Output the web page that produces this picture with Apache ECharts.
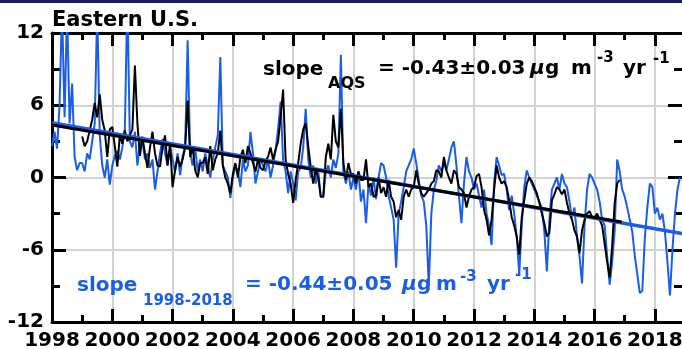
<!DOCTYPE html>
<html>
<head>
<meta charset="utf-8">
<script src="https://cdn.jsdelivr.net/npm/echarts@6/dist/echarts.min.js"></script>
<style>
html,body{margin:0;padding:0;background:#fff;}
#wrap{position:relative;width:682px;height:349px;}
#frame,#plot{position:absolute;left:0;top:0;width:682px;height:349px;}
</style>
</head>
<body>
<div id="wrap"><div id="frame"></div><div id="plot"></div></div>
<script>
// ---- data (monthly anomalies, µg m-3) ----
const blueStartYear = 1998;
const blue1998 = [2.6, 3.8, 2.4, 6.0, 14.0, 5.0, 14.0, 4.5, 7.8, 1.7, 0.6, 1.2];
const blue1999 = [1.2, 0.5, 2.0, 1.5, 3.0, 4.5, 14.0, 3.5, 1.0, 0.0, 1.5, -0.6];
const blue2000 = [1.0, 1.8, 2.2, 1.5, 2.5, 4.0, 15.0, 3.0, 2.5, 3.8, 1.0, 2.8];
const blue2001 = [3.0, 1.5, 2.0, 0.8, 1.5, -1.0, 0.5, 2.0, 3.2, 2.0, 1.0, 2.5];
const blue2002 = [1.5, 0.5, 2.0, 0.2, 1.8, 2.5, 11.4, 2.0, 1.0, 2.5, 0.5, 1.5];
const blue2003 = [0.5, 2.0, 1.0, 0.0, 1.5, 2.5, 3.5, 10.0, 1.0, 0.5, 0.0, -1.7];
const blue2004 = [0.0, 1.0, 0.5, -0.8, 1.5, 0.5, 1.0, 3.8, 2.0, -0.5, 0.5, 1.5];
const blue2005 = [1.0, 0.5, 1.5, 0.0, 1.0, 2.3, 4.0, 6.3, 1.5, 0.5, -1.3, 0.5];
const blue2006 = [-0.5, -1.9, 0.5, 0.8, 2.5, 5.7, 1.5, 0.0, 1.0, -0.5, 0.5, -1.6];
const blue2007 = [-1.6, 0.5, 1.0, 0.0, 1.5, 0.8, 2.0, 10.2, 0.5, -0.5, 0.5, -1.0];
const blue2008 = [0.0, -1.0, 0.5, -2.0, -1.0, -3.8, -0.5, -1.5, 0.0, -1.8, 0.0, 1.2];
const blue2009 = [1.0, 0.0, -1.5, -2.5, -3.5, -7.5, -3.0, -2.0, -0.8, 0.5, 1.0, 1.5];
const blue2010 = [2.4, 1.2, -0.2, -1.5, -2.0, -4.0, -9.0, -3.0, -1.0, -0.3, 1.0, 0.5];
const blue2011 = [1.2, 0.6, 1.5, 2.5, 3.0, 1.0, -1.5, -3.8, -0.5, 1.7, 0.5, 0.0];
const blue2012 = [-1.0, -0.5, -1.5, -2.5, -1.0, -3.0, -4.0, -5.6, -0.5, 1.7, 1.0, 0.2];
const blue2013 = [0.3, -1.0, -2.7, -1.5, -3.0, -4.9, -8.0, -4.0, -0.8, 0.6, 0.0, -0.5];
const blue2014 = [-1.0, -1.5, -2.0, -2.5, -4.5, -7.8, -3.5, -1.0, -0.5, 0.0, -1.0, 0.3];
const blue2015 = [-0.5, -0.8, -2.0, -3.3, -2.5, -4.9, -6.5, -8.8, -4.0, -1.0, 0.3, 0.0];
const blue2016 = [-0.5, -1.0, -2.0, -3.5, -4.0, -6.5, -8.9, -7.0, -4.4, 1.5, 0.5, -1.0];
const blue2017 = [-1.6, -2.5, -3.5, -4.5, -6.5, -8.0, -9.6, -9.4, -5.0, -2.5, -0.5, -0.8];
const blue2018 = [-3.0, -2.5, -3.5, -3.0, -4.5, -7.0, -9.8, -6.0, -3.0, -1.0, 0.0];

const blackStartYear = 1999;
const black1999 = [3.4, 2.6, 3.0, 3.9, 4.8, 6.2, 5.0, 6.9, 4.8, 3.9, 1.7, 4.0];
const black2000 = [4.2, 2.6, 0.9, 3.5, 2.8, 3.9, 3.0, 3.5, 4.0, 9.3, 4.5, 1.8];
const black2001 = [3.4, 2.0, 0.8, 2.5, 3.8, 2.0, 1.0, 0.9, 2.5, 3.5, 1.0, 2.8];
const black2002 = [-0.8, 0.6, 1.7, 0.9, 1.5, 2.5, 6.4, 1.7, 2.5, 0.6, 0.0, 1.2];
const black2003 = [1.2, 1.7, 0.3, 2.6, 0.6, 1.5, 2.0, 3.9, 1.0, 0.0, -0.5, -1.3];
const black2004 = [0.3, 1.2, 0.0, 1.7, 2.3, 1.2, 2.6, 2.0, 1.2, 0.5, 1.5, 0.8];
const black2005 = [0.6, 1.4, 1.7, 2.5, 1.5, 2.3, 3.0, 5.0, 7.3, 1.5, 0.3, -0.5];
const black2006 = [-2.1, -0.2, 1.2, 2.8, 4.0, 4.5, 2.6, 0.9, -0.5, 0.6, 0.0, -1.6];
const black2007 = [-1.6, 1.7, 2.8, 1.5, 5.2, 3.0, 2.5, 5.7, 1.2, -0.2, 1.2, 0.3];
const black2008 = [0.3, -0.5, 0.5, -0.2, -0.2, 1.5, -0.8, -0.5, -1.6, -1.5, 0.0, -1.3];
const black2009 = [-0.8, -1.6, -0.2, -1.6, -2.0, -3.3, -2.7, -3.5, -1.6, -1.0, -1.6, -1.0];
const black2010 = [-0.8, 0.6, -0.5, -1.3, -1.6, -1.3, -1.0, -0.5, -0.3, 0.6, 0.5, 0.0];
const black2011 = [1.7, 0.6, 0.0, -0.5, 0.6, 0.3, -0.8, -1.0, -1.3, -2.5, -1.6, -1.0];
const black2012 = [-0.8, 0.1, 0.3, -0.8, -2.7, -3.5, -4.8, -3.5, -1.0, 1.0, 0.0, -0.5];
const black2013 = [-0.3, -0.8, -1.9, -3.3, -4.0, -4.9, -6.4, -3.3, -1.9, -0.5, 0.0, -0.3];
const black2014 = [-0.8, -1.3, -2.1, -3.0, -3.8, -4.9, -4.6, -1.9, -1.4, -0.8, -1.0, -1.4];
const black2015 = [-1.0, -2.1, -3.0, -3.5, -4.4, -4.9, -6.3, -4.4, -3.5, -3.0, -2.8, -3.3];
const black2016 = [-3.3, -3.0, -3.5, -4.0, -5.5, -7.0, -8.3, -5.7, -2.1, -0.5, -0.2];

// trend lines (end points)
const trendBlueT = [1998, 2018.9];
const trendBlueV = [4.55, -4.65];
const trendBlackT = [1998, 2016.9];
const trendBlackV = [4.36, -3.7];

// axis ticks / labels
const xMin = 1998, xMax = 2018.9;
const xTicks = [1998, 2000, 2002, 2004, 2006, 2008, 2010, 2012, 2014, 2016, 2018];
const xMinorTicks = [1999, 2001, 2003, 2005, 2007, 2009, 2011, 2013, 2015, 2017];
const yTicks = [-12, -6, 0, 6, 12];

const blueYears = [blue1998, blue1999, blue2000, blue2001, blue2002, blue2003, blue2004, blue2005, blue2006, blue2007, blue2008, blue2009, blue2010, blue2011, blue2012, blue2013, blue2014, blue2015, blue2016, blue2017, blue2018];
const blackYears = [black1999, black2000, black2001, black2002, black2003, black2004, black2005, black2006, black2007, black2008, black2009, black2010, black2011, black2012, black2013, black2014, black2015, black2016];

function monthly(startYear, years) {
  const out = [];
  years.forEach((arr, yi) => arr.forEach((v, m) => out.push([startYear + yi + m / 12, v])));
  return out;
}
const blueData = monthly(blueStartYear, blueYears);
const blackData = monthly(blackStartYear, blackYears);
const trendBlue = trendBlueT.map((t, i) => [t, trendBlueV[i]]);
const trendBlack = trendBlackT.map((t, i) => [t, trendBlackV[i]]);

// ---- styling ----
const BLUE = '#1a5ee8';
const FONT = '"DejaVu Sans", "Liberation Sans", sans-serif';
const GRIDC = '#d2d2d2';
const GRID = { left: 52, top: 33, right: 0, bottom: 27, outerBoundsMode: 'none', containLabel: false };

function txt(s, x, base, size, color, italic) {
  return {
    type: 'text', x: x, y: base - 0.346 * size, z: 100,
    style: {
      text: s, fill: color,
      font: (italic ? 'italic ' : '') + 'bold ' + size + 'px ' + FONT,
      textAlign: 'left', verticalAlign: 'middle'
    }
  };
}

function xAx(position, ticks, len, opts) {
  return Object.assign({
    type: 'value', position: position, min: xMin, max: xMax,
    axisLine: { show: true, onZero: false, lineStyle: { color: '#000', width: 3 } },
    axisTick: { show: true, inside: true, length: len, customValues: ticks, lineStyle: { color: '#000', width: 3 } },
    minorTick: { show: false },
    splitLine: { show: false },
    axisLabel: { show: false }
  }, opts || {});
}
function yAx(position, opts) {
  return Object.assign({
    type: 'value', position: position, min: -12, max: 12, interval: 6,
    axisLine: { show: true, onZero: false, lineStyle: { color: '#000', width: 3 } },
    axisTick: { show: true, inside: true, length: 14, lineStyle: { color: '#000', width: 3 } },
    minorTick: { show: true, splitNumber: 2, length: 8, lineStyle: { color: '#000', width: 3 } },
    splitLine: { show: false },
    axisLabel: { show: false }
  }, opts || {});
}

// ---- layer 1: frame (axes, grid lines, tick labels) ----
const frame = echarts.init(document.getElementById('frame'), null, { renderer: 'canvas' });
frame.setOption({
  animation: false,
  backgroundColor: '#fff',
  grid: GRID,
  xAxis: [
    xAx('bottom', xTicks, 13, {
      splitLine: { show: true, lineStyle: { color: GRIDC, width: 2 } },
      axisLabel: {
        show: true, margin: 9, color: '#000', fontSize: 20, fontWeight: 'bold', fontFamily: FONT,
        customValues: xTicks, showMinLabel: true, showMaxLabel: true, formatter: v => String(v)
      }
    }),
    xAx('top', xTicks, 13),
    xAx('bottom', xMinorTicks, 7, { axisLine: { show: false, onZero: false } }),
    xAx('top', xMinorTicks, 7, { axisLine: { show: false, onZero: false } })
  ],
  yAxis: [
    yAx('left', {
      splitLine: { show: true, lineStyle: { color: GRIDC, width: 2 } },
      axisLabel: {
        show: true, margin: 8, color: '#000', fontSize: 20, fontWeight: 'bold', fontFamily: FONT,
        showMinLabel: true, showMaxLabel: true,
        formatter: v => (yTicks.indexOf(v) >= 0 ? String(v) : '')
      }
    }),
    yAx('right', { axisLine: { show: false, onZero: false } })
  ],
  series: []
});

// ---- layer 2: data series and annotations ----
const hidden = { axisLine: { show: false, onZero: false }, axisTick: { show: false }, minorTick: { show: false }, splitLine: { show: false }, axisLabel: { show: false } };
const plot = echarts.init(document.getElementById('plot'), null, { renderer: 'canvas' });
plot.setOption({
  animation: false,
  backgroundColor: 'transparent',
  grid: GRID,
  xAxis: Object.assign({ type: 'value', min: xMin, max: xMax }, hidden),
  yAxis: Object.assign({ type: 'value', min: -12, max: 12, interval: 6 }, hidden),
  series: [
    { type: 'line', data: blueData, showSymbol: false, symbol: 'none', lineStyle: { color: BLUE, width: 2 }, z: 2, clip: true },
    { type: 'line', data: blackData, showSymbol: false, symbol: 'none', lineStyle: { color: '#000', width: 2 }, z: 3, clip: true },
    { type: 'line', data: trendBlue, showSymbol: false, symbol: 'none', lineStyle: { color: BLUE, width: 3.5 }, z: 4 },
    { type: 'line', data: trendBlack, showSymbol: false, symbol: 'none', lineStyle: { color: '#000', width: 3 }, z: 5 }
  ],
  graphic: { elements: [
    { type: 'rect', shape: { x: 0, y: 0, width: 682, height: 3 }, style: { fill: '#1c1b5e' }, z: 100 },
    txt('Eastern U.S.', 52, 28, 21, '#000'),
    txt('slope', 263, 77, 20, '#000'),
    txt('AQS', 328, 89, 16, '#000'),
    txt('= -0.43\u00b10.03', 378, 76, 20, '#000'),
    txt('\u03bc', 530, 76, 20, '#000', true),
    txt('g', 545, 76, 20, '#000'),
    txt('m', 571, 76, 20, '#000'),
    txt('-3', 597, 63, 15, '#000'),
    txt('yr', 623, 76, 20, '#000'),
    txt('-1', 653, 64, 15, '#000'),
    txt('slope', 77, 293, 20, BLUE),
    txt('1998-2018', 143, 306, 15, BLUE),
    txt('= -0.44\u00b10.05', 245, 292, 20, BLUE),
    txt('\u03bc', 402, 292, 20, BLUE, true),
    txt('g', 417, 292, 20, BLUE),
    txt('m', 436, 292, 20, BLUE),
    txt('-3', 460, 282, 15, BLUE),
    txt('yr', 487, 292, 20, BLUE),
    txt('-1', 515, 280, 15, BLUE)
  ] }
});
</script>
</body>
</html>
